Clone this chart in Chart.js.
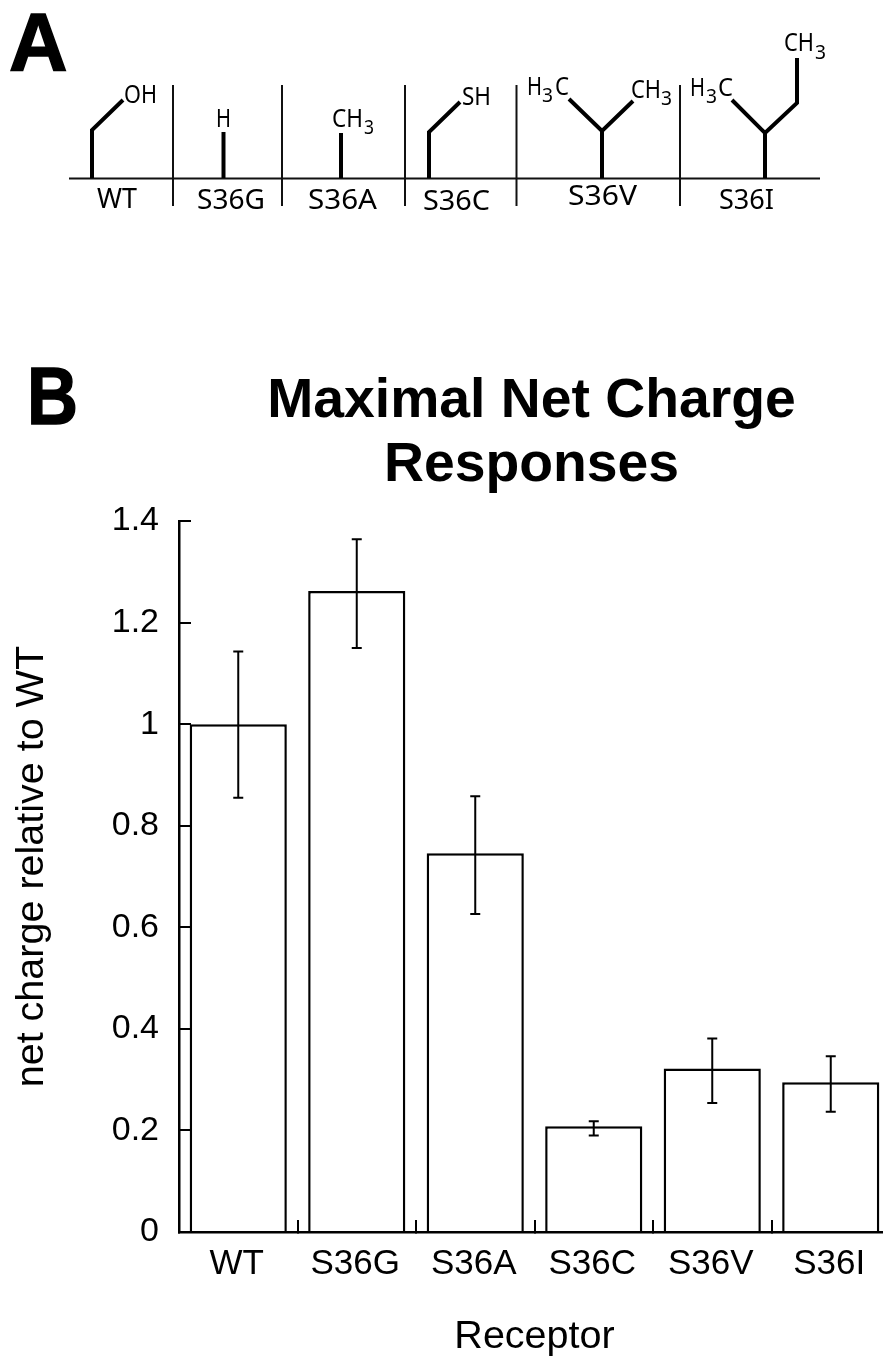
<!DOCTYPE html>
<html>
<head>
<meta charset="utf-8">
<title>Maximal Net Charge Responses</title>
<script src="https://cdn.jsdelivr.net/npm/chart.js@4"></script>
<style>
  html, body { margin: 0; padding: 0; background: #fff; width: 883px; height: 1357px; overflow: hidden; }
  #wrap { position: relative; width: 883px; height: 1357px; overflow: hidden; }
  canvas { position: absolute; left: 0; top: 0; }
  svg { position: absolute; left: 0; top: 0; }
  .bond { stroke: #000; stroke-width: 4; fill: none; stroke-linejoin: miter; }
  .rule { stroke: #111; stroke-width: 2; }
  .lab { font-family: "Noto Sans", sans-serif; font-size: 26px; fill: #000; }
  .cat { font-family: "Noto Sans", sans-serif; font-size: 28px; fill: #000; }
  .sub { font-family: "Noto Sans", sans-serif; font-size: 19px; fill: #000; }
  .panel { font-family: "Liberation Sans", Arial, sans-serif; font-weight: bold; font-size: 81px; fill: #000; stroke: #000; stroke-width: 1.5; }
</style>
</head>
<body>
<div id="wrap">
  <canvas id="chart" width="900" height="1357"></canvas>
  <svg width="883" height="1357" viewBox="0 0 883 1357">
    <text class="panel" x="9" y="69.5">A</text>
    <text class="panel" x="27" y="423.5" textLength="51" lengthAdjust="spacingAndGlyphs">B</text>

    <line class="rule" x1="69" y1="178.5" x2="820" y2="178.5"/>
    <line class="rule" x1="173" y1="85" x2="173" y2="206"/>
    <line class="rule" x1="282" y1="85" x2="282" y2="206"/>
    <line class="rule" x1="405" y1="85" x2="405" y2="206"/>
    <line class="rule" x1="516.5" y1="85" x2="516.5" y2="206"/>
    <line class="rule" x1="680" y1="85" x2="680" y2="206"/>

    <polyline class="bond" points="92,178 92,130 123,100"/>
    <polyline class="bond" points="223.5,178 223.5,132"/>
    <polyline class="bond" points="341,178 341,133"/>
    <polyline class="bond" points="429,178 429,132 460,102"/>
    <polyline class="bond" points="602,178 602,131"/>
    <polyline class="bond" points="569,99 602,131 633,101"/>
    <polyline class="bond" points="765,178 765,133"/>
    <polyline class="bond" points="732,100 765,133 797,103 797,58"/>

    <text class="lab" x="124" y="103" textLength="33" lengthAdjust="spacingAndGlyphs">OH</text>
    <text class="lab" x="216" y="126.5" textLength="15" lengthAdjust="spacingAndGlyphs">H</text>
    <text class="lab" x="332" y="126.5" textLength="31" lengthAdjust="spacingAndGlyphs">CH</text>
    <text class="sub" x="364" y="134" textLength="10" lengthAdjust="spacingAndGlyphs">3</text>
    <text class="lab" x="462" y="105" textLength="29" lengthAdjust="spacingAndGlyphs">SH</text>
    <text class="lab" x="527" y="94.5" textLength="15" lengthAdjust="spacingAndGlyphs">H</text>
    <text class="sub" x="542" y="102" textLength="11" lengthAdjust="spacingAndGlyphs">3</text>
    <text class="lab" x="555" y="94.5" textLength="14" lengthAdjust="spacingAndGlyphs">C</text>
    <text class="lab" x="631" y="97.5" textLength="30" lengthAdjust="spacingAndGlyphs">CH</text>
    <text class="sub" x="661" y="105" textLength="11" lengthAdjust="spacingAndGlyphs">3</text>
    <text class="lab" x="690" y="96" textLength="15" lengthAdjust="spacingAndGlyphs">H</text>
    <text class="sub" x="706" y="103" textLength="11" lengthAdjust="spacingAndGlyphs">3</text>
    <text class="lab" x="718" y="96" textLength="15" lengthAdjust="spacingAndGlyphs">C</text>
    <text class="lab" x="784" y="51" textLength="30" lengthAdjust="spacingAndGlyphs">CH</text>
    <text class="sub" x="815" y="58.5" textLength="11" lengthAdjust="spacingAndGlyphs">3</text>

    <text class="cat" x="97" y="208" textLength="40" lengthAdjust="spacingAndGlyphs">WT</text>
    <text class="cat" x="197" y="209" textLength="68" lengthAdjust="spacingAndGlyphs">S36G</text>
    <text class="cat" x="308" y="209" textLength="69" lengthAdjust="spacingAndGlyphs">S36A</text>
    <text class="cat" x="423" y="210" textLength="67" lengthAdjust="spacingAndGlyphs">S36C</text>
    <text class="cat" x="568" y="205" textLength="69" lengthAdjust="spacingAndGlyphs">S36V</text>
    <text class="cat" x="719" y="209" textLength="55" lengthAdjust="spacingAndGlyphs">S36I</text>
  </svg>
</div>
<script>
const categories = ['WT', 'S36G', 'S36A', 'S36C', 'S36V', 'S36I'];
const netCharge = [1.0, 1.262, 0.746, 0.208, 0.322, 0.295];
const errLow = [0.855, 1.150, 0.626, 0.190, 0.254, 0.237];
const errHigh = [1.143, 1.364, 0.858, 0.218, 0.381, 0.346];
const yTicks = [0, 0.2, 0.4, 0.6, 0.8, 1, 1.2, 1.4];

// error bars
const errorBars = {
  id: 'errorBars',
  afterLayout(chart) {
    // the title sits 3px left of the plot centre in the original
    chart.titleBlock.left -= 6;
  },
  afterDatasetsDraw(chart) {
    const { ctx, scales } = chart;
    const bars = chart.getDatasetMeta(0).data;
    ctx.save();
    ctx.strokeStyle = '#000';
    ctx.lineWidth = 2;
    bars.forEach((bar, i) => {
      const lo = scales.y.getPixelForValue(errLow[i]);
      const hi = scales.y.getPixelForValue(errHigh[i]);
      ctx.beginPath();
      ctx.moveTo(bar.x, lo);
      ctx.lineTo(bar.x, hi);
      ctx.moveTo(bar.x - 5, lo);
      ctx.lineTo(bar.x + 5, lo);
      ctx.moveTo(bar.x - 5, hi);
      ctx.lineTo(bar.x + 5, hi);
      ctx.stroke();
    });
    ctx.restore();
  }
};

Chart.defaults.font.family = '"Liberation Sans", Arial, sans-serif';
Chart.defaults.color = '#000';

new Chart(document.getElementById('chart'), {
  type: 'bar',
  plugins: [errorBars],
  data: {
    labels: categories,
    datasets: [{
      data: netCharge,
      backgroundColor: '#fff',
      borderColor: '#000',
      borderWidth: 2.5,
      barPercentage: 0.82,
      categoryPercentage: 1
    }]
  },
  options: {
    responsive: false,
    animation: false,
    layout: { padding: { top: 370, right: 10, left: 0, bottom: 0 } },
    plugins: {
      legend: { display: false },
      tooltip: { enabled: false },
      title: {
        display: true,
        fullSize: false,
        text: ['Maximal Net Charge', 'Responses'],
        font: { size: 55.3, weight: 'bold', lineHeight: 64 / 55.3 },
        color: '#000',
        padding: { top: 0, bottom: 23 }
      }
    },
    scales: {
      x: {
        afterFit: (scale) => { scale.height = 125; },
        grid: { offset: true, drawOnChartArea: false, tickLength: -12, lineWidth: 2, color: '#000' },
        border: { color: '#000', width: 2.5 },
        ticks: { font: { size: 35 }, color: '#000', maxRotation: 0, autoSkip: false, padding: 23, labelOffset: -1.5 },
        title: { display: true, text: 'Receptor', font: { size: 39.5, lineHeight: 1 }, color: '#000', padding: 0 }
      },
      y: {
        min: 0,
        max: 1.4,
        afterFit: (scale) => { scale.width = 179; },
        afterBuildTicks: (scale) => { scale.ticks = yTicks.map((value) => ({ value })); },
        grid: { drawOnChartArea: false, tickLength: -12, lineWidth: 2, color: '#000' },
        border: { color: '#000', width: 2.5 },
        ticks: { font: { size: 34 }, color: '#000', padding: 32, callback: (v) => String(+v.toFixed(1)) },
        title: { display: true, text: '\u2002net charge relative to WT', font: { size: 39.5, lineHeight: 1.1 }, color: '#000', padding: { top: 10, bottom: 0 } }
      }
    }
  }
});
</script>
</body>
</html>
